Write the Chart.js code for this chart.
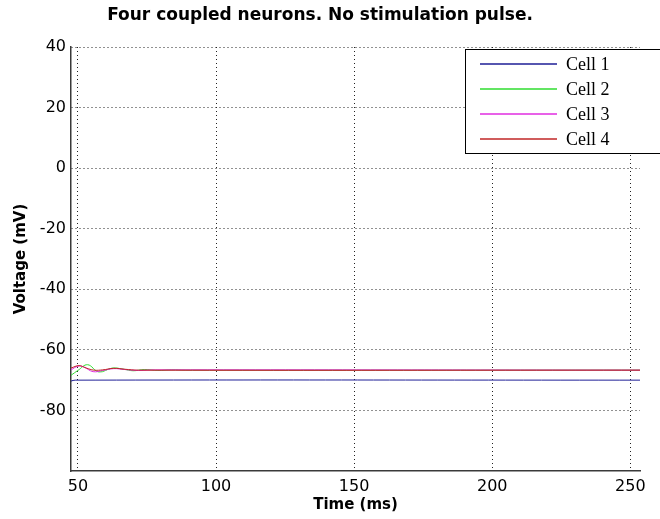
<!DOCTYPE html>
<html>
<head>
<meta charset="utf-8">
<script src="https://cdn.jsdelivr.net/npm/chart.js@4.4.0/dist/chart.umd.min.js"></script>
<style>
  body { margin: 0; background: #fff; }
  canvas { display: block; }
</style>
</head>
<body>
<canvas id="myChart" width="660" height="519"></canvas>
<script>
// membrane voltage traces (ms, mV)
let cellNames = ['Cell 1', 'Cell 2', 'Cell 3', 'Cell 4'];
let cellColors = ['#1e1e96', '#2fdc2f', '#e02ce0', '#c02626'];

let t1 = [47.5, 49, 253.5];
let v1 = [-70.3, -70.0, -70.0];

let t2 = [47.5, 50, 53.5, 57.6, 62.5, 66.6, 70, 74, 79, 84, 89, 253.5];
let v2 = [-68.4, -66.8, -64.9, -67.3, -66.0, -66.4, -66.9, -66.5, -66.8, -66.6, -66.7, -66.7];

let t3 = [47.5, 50, 52, 55.5, 59, 63, 67, 72, 78, 253.5];
let v3 = [-66.6, -65.4, -65.6, -67.2, -66.8, -66.2, -66.5, -66.8, -66.6, -66.7];

let t4 = [47.5, 50.4, 53, 55.8, 59, 63, 67, 72, 253.5];
let v4 = [-66.0, -65.2, -66.0, -66.7, -66.6, -66.1, -66.4, -66.7, -66.7];

let xTicks = [50, 100, 150, 200, 250];
let yTicks = [-80, -60, -40, -20, 0, 20, 40];

let times = [t1, t2, t3, t4];
let volts = [v1, v2, v3, v4];

let datasets = cellNames.map(function (name, i) {
    return {
        label: name,
        data: times[i].map(function (t, k) { return {x: t, y: volts[i][k]}; }),
        borderColor: cellColors[i],
        borderWidth: 1,
        pointRadius: 0,
        tension: 0.4,
        fill: false,
        order: cellNames.length - i   // later cells drawn on top
    };
});

// legend box in the upper right, sticks out past the plot edge
let boxLegend = {
    id: 'boxLegend',
    afterDraw: function (chart) {
        let ctx = chart.ctx;
        let x0 = 465, y0 = 49, w = 215, h = 104;
        ctx.save();
        ctx.setLineDash([]);
        ctx.fillStyle = '#fff';
        ctx.fillRect(x0, y0, w, h);
        ctx.strokeStyle = '#000';
        ctx.lineWidth = 1;
        ctx.strokeRect(x0 + 0.5, y0 + 0.5, w, h);
        ctx.font = '18px "Liberation Serif", serif';
        ctx.textBaseline = 'middle';
        ctx.fillStyle = '#000';
        cellNames.forEach(function (name, i) {
            let y = 64 + i * 25;
            ctx.strokeStyle = cellColors[i];
            ctx.lineWidth = 1.5;
            ctx.beginPath();
            ctx.moveTo(480, y);
            ctx.lineTo(557, y);
            ctx.stroke();
            ctx.fillText(name, 566, y + 1);
        });
        ctx.restore();
    }
};

let gridStyle = {color: '#222', lineWidth: 1, drawTicks: false};
let borderStyle = {color: '#3a3a3a', width: 1.5, dash: [1, 3]};

new Chart(document.getElementById('myChart'), {
    type: 'line',
    data: {datasets: datasets},
    options: {
        responsive: false,
        animation: false,
        layout: {padding: {left: 0, right: 20, top: 0, bottom: 0}},
        plugins: {
            legend: {display: false},
            tooltip: {enabled: false},
            title: {
                display: true,
                text: 'Four coupled neurons. No stimulation pulse.',
                color: '#000',
                font: {family: '"DejaVu Sans", sans-serif', size: 17, weight: 'bold'},
                padding: {top: 5, bottom: 21.6}
            }
        },
        scales: {
            x: {
                type: 'linear',
                min: 47.5,
                max: 253.5,
                afterBuildTicks: function (scale) {
                    scale.ticks = xTicks.map(function (v) { return {value: v}; });
                },
                afterFit: function (scale) { scale.height = 48; },
                grid: gridStyle,
                border: borderStyle,
                ticks: {
                    color: '#000',
                    padding: 6,
                    maxRotation: 0,
                    font: {family: '"DejaVu Sans", sans-serif', size: 16}
                },
                title: {
                    display: true,
                    text: 'Time (ms)',
                    color: '#000',
                    font: {family: '"DejaVu Sans", sans-serif', size: 15, weight: 'bold'},
                    padding: {top: 0, bottom: 5}
                }
            },
            y: {
                min: -100,
                max: 40,
                afterBuildTicks: function (scale) {
                    scale.ticks = yTicks.map(function (v) { return {value: v}; });
                },
                afterFit: function (scale) { scale.width = 71; },
                grid: gridStyle,
                border: borderStyle,
                ticks: {
                    color: '#000',
                    padding: 5,
                    font: {family: '"DejaVu Sans", sans-serif', size: 16}
                },
                title: {
                    display: true,
                    text: 'Voltage (mV)',
                    color: '#000',
                    font: {family: '"DejaVu Sans", sans-serif', size: 15, weight: 'bold'},
                    padding: {top: 12, bottom: 0}
                }
            }
        }
    },
    plugins: [boxLegend]
});
</script>
</body>
</html>
